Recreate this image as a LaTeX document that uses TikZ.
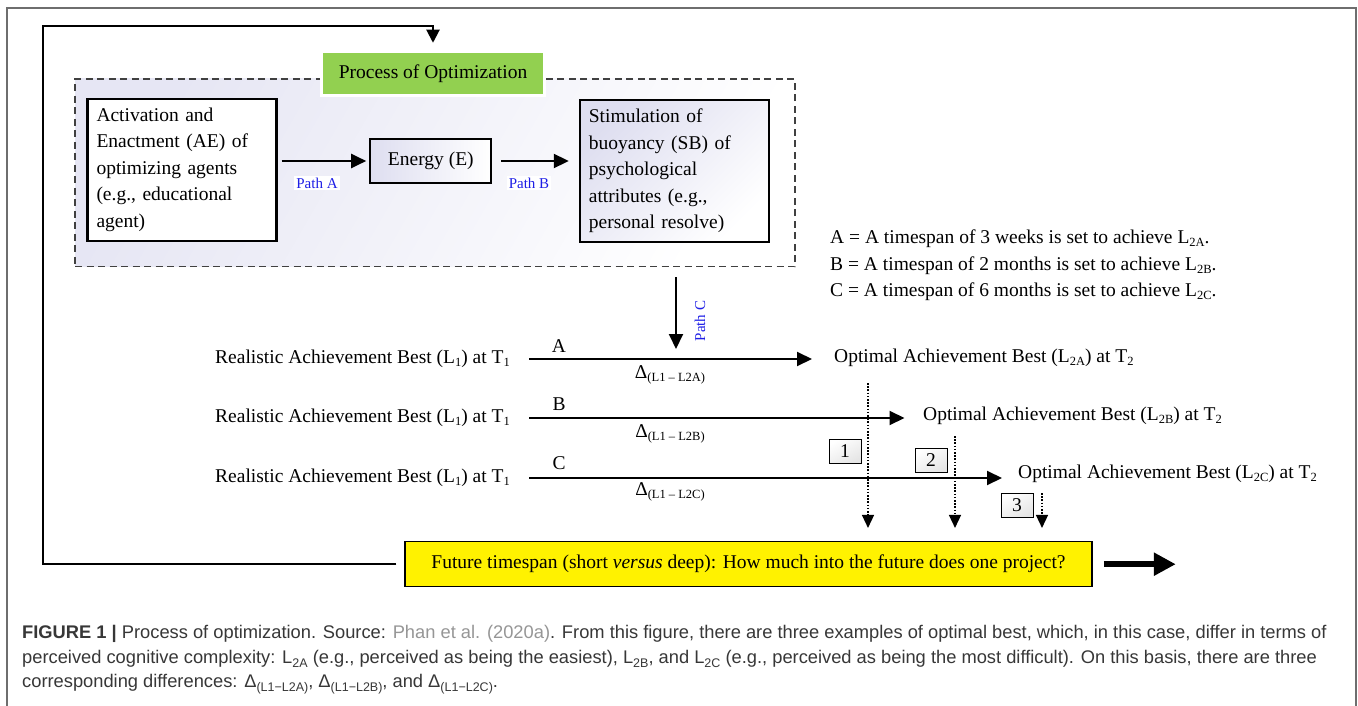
\documentclass[tikz,border=0pt]{standalone}
\usepackage{fontspec}
\setmainfont{Liberation Serif}
\newfontfamily\capfont{Liberation Sans}
\usetikzlibrary{arrows.meta}
\definecolor{lav}{RGB}{222,222,240}
\definecolor{procgreen}{RGB}{146,208,80}
\definecolor{pathblue}{RGB}{30,30,230}
\definecolor{capgray}{RGB}{55,55,55}
\definecolor{linkgray}{RGB}{150,150,150}
\definecolor{framegray}{RGB}{110,110,110}
\newcommand\mysub[1]{\raisebox{-0.3ex}{\fontsize{12.5}{12.5}\selectfont #1}}
\newcommand\capsub[1]{\raisebox{-0.35ex}{\fontsize{12.5}{12.5}\selectfont #1}}
\begin{document}
\begin{tikzpicture}[x=1pt,y=-1pt,
 txt/.style={font=\fontsize{19.5}{26.5}\selectfont, inner sep=0pt},
 box/.style={draw, line width=2.2pt, txt, align=left, inner xsep=9pt, inner ysep=0pt},
 arr/.style={line width=2pt, -{Triangle[length=15pt,width=14pt]}},
 dotarr/.style={line width=1.4pt, dash pattern=on 1.6pt off 1.6pt, -{Triangle[length=13pt,width=12pt]}},
 pathlbl/.style={font=\fontsize{15}{15}\selectfont, text=pathblue, fill=white, inner sep=2pt},
 numbox/.style={draw, line width=0.9pt, top color=white, bottom color=black!10, shading angle=30, minimum width=32pt, minimum height=24pt, txt},
 fb/.style={line width=2pt, -{Triangle[length=13pt,width=13pt]}},
 captxt/.style={font=\capfont\fontsize{18.3}{22}\selectfont, text=capgray, anchor=west, inner sep=0pt}
]
\useasboundingbox (0,0) rectangle (1358,706);
\fill[white] (0,0) rectangle (1358,706);
% outer gray frame
\draw[framegray, line width=1.2pt] (7,706) -- (7,8) -- (1356,8) -- (1356,706);

% dashed process frame
\node[draw=black!75, dash pattern=on 7pt off 4.5pt, line width=1.2pt, top color=lav!75, bottom color=white, shading angle=60, minimum width=720pt, minimum height=187.7pt, inner sep=0pt] (frame) at (435,172.8) {};
\node[fill=procgreen, draw=white, line width=3pt, txt, minimum width=223pt, minimum height=44.5pt] (proc) at (433,73.5) {Process of Optimization};

\node[box, fill=white, text width=171pt, minimum height=142pt] (ae) at (182,169.7) {Activation and\\Enactment (AE) of\\optimizing agents\\(e.g., educational\\agent)};
\node[draw, line width=2.2pt, txt, minimum width=121pt, minimum height=44.6pt, left color=lav, right color=white] (en) at (430.8,161) {Energy (E)};
\node[box, top color=lav, bottom color=white, shading angle=45, text width=171pt, minimum height=142pt] (sb) at (674.4,170.8) {Stimulation of\\buoyancy (SB) of\\psychological\\attributes (e.g.,\\personal resolve)};

\draw[arr, shorten <=4pt, shorten >=3pt] (ae.east |- en.west) -- (en.west);
\node[pathlbl] (pa) at (317,183) {Path A};
\draw[arr, shorten <=9pt, shorten >=10pt] (en.east) -- (en.east -| sb.west);
\node[pathlbl] (pb) at (529,183) {Path B};

\coordinate (pc) at (676,349);
\draw[arr, shorten <=10pt] (frame.south -| pc) -- (pc);
\node[pathlbl, rotate=90] (pcl) at (700,321) {Path C};

% legend
\node[txt, anchor=west] (la) at (830,239) {A = A timespan of 3 weeks is set to achieve L\mysub{2A}.};
\node[txt, anchor=west] (lb) at (830,266) {B = A timespan of 2 months is set to achieve L\mysub{2B}.};
\node[txt, anchor=west] (lc) at (830,292) {C = A timespan of 6 months is set to achieve L\mysub{2C}.};

% rows
\node[txt, anchor=east] (r1) at (510,359) {Realistic Achievement Best (L\mysub{1}) at T\mysub{1}};
\node[txt, anchor=east] (r2) at (510,418) {Realistic Achievement Best (L\mysub{1}) at T\mysub{1}};
\node[txt, anchor=east] (r3) at (510,478) {Realistic Achievement Best (L\mysub{1}) at T\mysub{1}};
\node[txt, anchor=west] (o1) at (834,358) {Optimal Achievement Best (L\mysub{2A}) at T\mysub{2}};
\node[txt, anchor=west] (o2) at (923,416) {Optimal Achievement Best (L\mysub{2B}) at T\mysub{2}};
\node[txt, anchor=west] (o3) at (1018,474) {Optimal Achievement Best (L\mysub{2C}) at T\mysub{2}};

\draw[arr, shorten <=19pt, shorten >=22pt] (r1.east) -- (r1.east -| o1.west);
\draw[arr, shorten <=19pt, shorten >=18.5pt] (r2.east) -- (r2.east -| o2.west);
\draw[arr, shorten <=19pt, shorten >=16pt] (r3.east) -- (r3.east -| o3.west);

\node[txt] (ta) at (559,346) {A};
\node[txt] (tb) at (559,404) {B};
\node[txt] (tc) at (559,463) {C};
\node[txt] (da) at (670,375) {Δ\mysub{(L1 – L2A)}};
\node[txt] (db) at (670,434) {Δ\mysub{(L1 – L2B)}};
\node[txt] (dc) at (670,492) {Δ\mysub{(L1 – L2C)}};

% future box
\node[draw, line width=1.5pt, fill=yellow, txt, minimum width=687pt, minimum height=45pt] (fut) at (748.5,564.2) {Future timespan (short \textit{versus} deep): How much into the future does one project?};
\draw[line width=5.5pt, -{Triangle[length=22pt,width=22pt]}, shorten <=11pt] (fut.east) -- ++(83,0) coordinate (bigend);

% feedback loop
\draw[fb] ([xshift=-8pt]fut.west) -| (43,26) -| ([yshift=7pt]proc.north);

% dotted arrows and number boxes
\coordinate (d1) at (868,383);
\coordinate (d2) at (955,436);
\coordinate (d3) at (1042,493);
\draw[dotarr, shorten >=13pt] (d1) -- (d1 |- fut.north);
\draw[dotarr, shorten >=13pt] (d2) -- (d2 |- fut.north);
\draw[dotarr, shorten >=13pt] (d3) -- (d3 |- fut.north);
\node[numbox] (n1) at (845,451) {1};
\node[numbox] (n2) at (931,460) {2};
\node[numbox] (n3) at (1017,505) {3};

% caption
\node[captxt] (c1) at (22,634) {{\bfseries FIGURE 1 |} Process of optimization. Source: \textcolor{linkgray}{Phan et al. (2020a)}. From this figure, there are three examples of optimal best, which, in this case, differ in terms of};
\node[captxt] (c2) at (22,659) {perceived cognitive complexity: L\capsub{2A} (e.g., perceived as being the easiest), L\capsub{2B}, and L\capsub{2C} (e.g., perceived as being the most difficult). On this basis, there are three};
\node[captxt] (c3) at (22,684) {corresponding differences: Δ\capsub{(L1−L2A)}, Δ\capsub{(L1−L2B)}, and Δ\capsub{(L1−L2C)}.};
\end{tikzpicture}
\end{document}
